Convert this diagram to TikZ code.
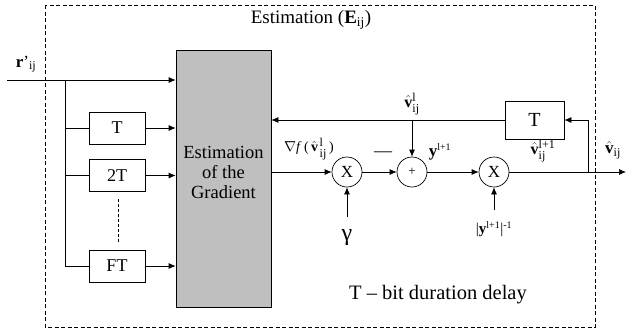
\documentclass[tikz,border=0pt]{standalone}
\usepackage{amsmath}
\usepackage{fontspec}
\setmainfont{Liberation Serif}
\usetikzlibrary{arrows.meta,calc}
\newcommand{\vhat}{$\hat{\text{\textbf{v}}}$}
\newcommand{\smtx}[1]{\text{\fontsize{12}{12}\selectfont #1}}
\newcommand{\tntx}[1]{\text{\fontsize{10}{10}\selectfont #1}}
\begin{document}
\begin{tikzpicture}[x=1pt,y=-1pt,
  line width=0.7pt,
  arr/.style={-{Latex[length=7pt,width=6pt]}},
  dlybox/.style={draw,rectangle,minimum width=56pt,minimum height=32pt,inner sep=0pt,font=\fontsize{18}{20}\selectfont},
  mixer/.style={draw,circle,minimum size=30pt,inner sep=0pt,font=\fontsize{17}{19}\selectfont},
  lbl/.style={inner sep=0pt,font=\fontsize{16}{18}\selectfont},
  biglbl/.style={inner sep=0pt,font=\fontsize{19}{21}\selectfont}]
\useasboundingbox (0,0) rectangle (626,335);
% dashed frame
\draw[dash pattern=on 4pt off 2.5pt, line width=0.7pt] (45,5) rectangle (595,327);
\node[biglbl] (title) at (311,20) {Estimation (\textbf{E}\textsubscript{ij})};
% gradient block
\node[draw,fill=black!25,rectangle,minimum width=95pt,minimum height=257pt,inner sep=0pt] (grad) at (223.5,178.5) {};
\node[biglbl,align=center,font=\fontsize{18.5}{20}\selectfont] (gradtxt) at (223.5,172) {Estimation\\of the\\Gradient};
% delay boxes
\node[dlybox] (t1) at (117,128) {T};
\node[dlybox] (t2) at (117,175.5) {2T};
\node[dlybox] (tf) at (117,266) {FT};
\node[dlybox,minimum width=59pt,minimum height=38pt,font=\fontsize{20}{22}\selectfont] (tfb) at (534.5,120) {T};
% mixers
\node[mixer] (m1) at (347,172) {X};
\node[mixer,font=\fontsize{13}{14}\selectfont] (sum) at (412,172) {+};
\node[mixer] (m2) at (494,172) {X};
% coordinates
\coordinate (in) at (7,80);
\coordinate (br) at (65,80);
\coordinate (brb) at (65,266);
\coordinate (out) at (626,172);
\coordinate (fb) at (588,172);
\coordinate (tap) at (412,120);
\coordinate (gs) at (347,217);
\coordinate (ys) at (494,210);
\coordinate (d1) at (118,199);
\coordinate (d2) at (118,242);
% input
\node[lbl,font=\fontsize{17}{19}\selectfont] (rin) at (26,64) {\textbf{r}'$_{\smtx{ij}}$};
\draw[arr] (in) -- (grad.west |- in);
\draw (br) -- (brb);
\draw (br |- t1) -- (t1.west);
\draw (br |- t2) -- (t2.west);
\draw (brb) -- (tf.west);
\draw[arr] (t1.east) -- (grad.west |- t1);
\draw[arr] (t2.east) -- (grad.west |- t2);
\draw[arr] (tf.east) -- (grad.west |- tf);
\draw[densely dashed,line width=0.5pt] (d1) -- (d2);
% main chain
\draw[arr] (grad.east |- m1) -- (m1.west);
\draw[arr] (m1.east) -- (sum.west);
\draw[arr] (sum.east) -- (m2.west);
\draw[arr] (m2.east) -- (out);
\draw[arr] (fb) |- (tfb.east);
\draw[arr] (tfb.west) -- (grad.east |- tfb.west);
\draw[arr] (tap) -- (sum.north);
% gains
\node[biglbl,font=\fontsize{24}{26}\selectfont] (gam) at (347,238) {γ};
\draw[arr] (gs) -- (m1.south);
\node[lbl,font=\fontsize{15}{17}\selectfont] (ynorm) at (494,229) {|\textbf{y}$^{\tntx{l+1}}$|$^{\tntx{-1}}$};
\draw[arr] (ys) -- (m2.south);
% labels
\node[lbl,font=\fontsize{14}{16}\selectfont] (grl) at (309,149) {$\nabla$\textit{f}\,(\,\vhat$^{\,\smtx{l}}_{\,\smtx{ij}}$\,)};
\node[lbl,font=\fontsize{18}{20}\selectfont] (minus) at (383,154) {—};
\node[lbl,font=\fontsize{17}{19}\selectfont] (yl) at (440,152) {\textbf{y}$^{\tntx{l+1}}$};
\node[lbl] (vl) at (412,104) {\vhat$^{\smtx{l}}_{\smtx{ij}}$};
\node[lbl] (vl1) at (543,151) {\vhat$^{\smtx{l+1}}_{\smtx{ij}}$};
\node[lbl,font=\fontsize{17}{19}\selectfont] (vout) at (613,150) {\vhat$_{\smtx{ij}}$};
\node[biglbl,font=\fontsize{20.5}{22}\selectfont] (note) at (438,295) {T – bit duration delay};
\end{tikzpicture}
\end{document}
